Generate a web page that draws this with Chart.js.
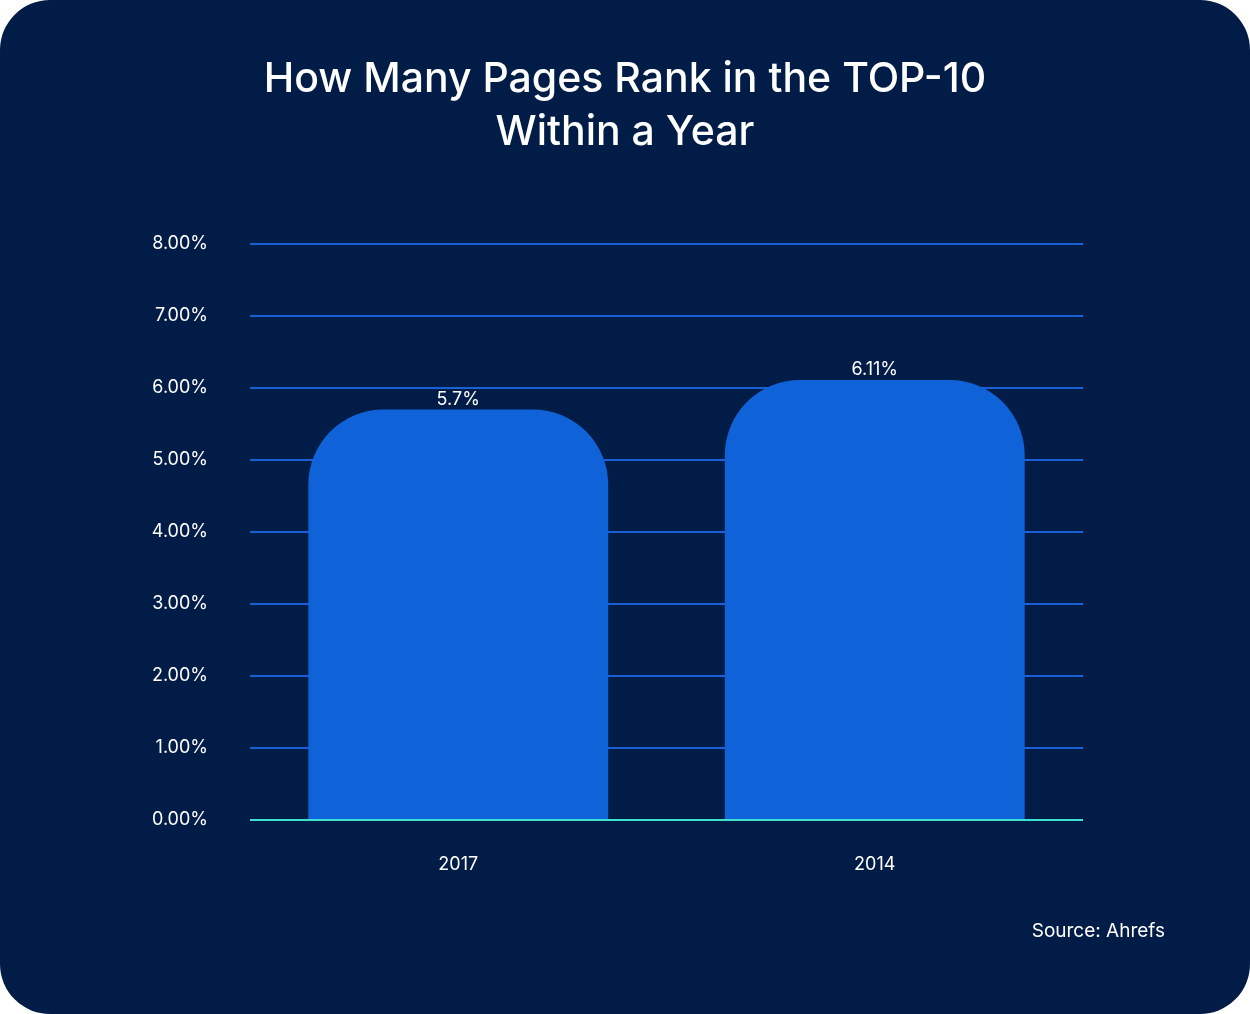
<!DOCTYPE html>
<html><head><meta charset="utf-8">
<script src="https://cdn.jsdelivr.net/npm/chart.js@4"></script>
<style>html,body{margin:0;padding:0;background:#fff}#c{display:block}</style>
</head><body>
<canvas id="c" width="1250" height="1014"></canvas>
<script>
const categories = ["2017", "2014"];
const values = [5.7, 6.11];
const valueLabels = ["5.7%", "6.11%"];
const titleLines = ["How Many Pages Rank in the TOP-10", "Within a Year"];
const sourceText = "Source: Ahrefs";

const deco = {
  id: 'deco',
  beforeDraw(chart) {
    const ctx = chart.ctx, w = chart.width, h = chart.height, r = 50;
    ctx.save();
    ctx.fillStyle = '#011d47';
    ctx.beginPath();
    ctx.roundRect(0, 0, w, h, r);
    ctx.fill();
    ctx.restore();
  },
  afterDraw(chart) {
    const ctx = chart.ctx;
    ctx.save();
    ctx.fillStyle = '#ffffff';
    ctx.textAlign = 'center';
    ctx.textBaseline = 'middle';
    ctx.font = '500 41px Inter, sans-serif';
    ctx.fillText(titleLines[0], 625, 80);
    ctx.fillText(titleLines[1], 625, 133);
    ctx.font = '19px Inter, sans-serif';
    ctx.textAlign = 'right';
    ctx.fillText(sourceText, 1165, 931);
    const meta = chart.getDatasetMeta(0);
    ctx.textAlign = 'center';
    ctx.textBaseline = 'bottom';
    ctx.font = '18px Inter, sans-serif';
    meta.data.forEach((b, i) => ctx.fillText(valueLabels[i], b.x, b.y - 1));
    ctx.restore();
  }
};

new Chart(document.getElementById('c'), {
  type: 'bar',
  data: { labels: categories, datasets: [{ data: values, backgroundColor: '#1062d8',
    borderRadius: { topLeft: 75, topRight: 75, bottomLeft: 0, bottomRight: 0 }, borderSkipped: false,
    barPercentage: 0.72, categoryPercentage: 1 }] },
  options: {
    responsive: false, animation: false,
    layout: { padding: { top: 244, right: 167, left: 0, bottom: 0 } },
    plugins: { legend: { display: false }, tooltip: { enabled: false } },
    scales: {
      y: { min: 0, max: 8, border: { display: false },
        afterFit: s => { s.width = 250; },
        grid: { color: ctx => ctx.tick.value === 0 ? '#3ee0d0' : '#1a5fd6', lineWidth: 2, drawTicks: false },
        ticks: { stepSize: 1, padding: 42, color: '#ffffff', font: { family: 'Inter', size: 18 },
          callback: v => v.toFixed(2) + '%' } },
      x: { border: { display: false }, afterFit: s => { s.height = 194; },
        grid: { display: false },
        ticks: { padding: 26, color: '#ffffff', font: { family: 'Inter', size: 18 } } }
    }
  },
  plugins: [deco]
});
</script>
</body></html>
